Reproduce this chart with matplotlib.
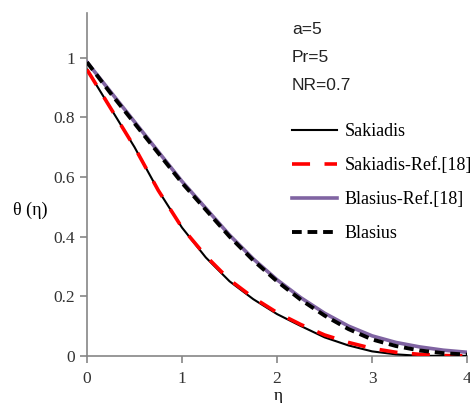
import matplotlib
matplotlib.use("Agg")
import matplotlib.pyplot as plt
import numpy as np

eta = [0, 0.25, 0.5, 0.75, 1.0, 1.25, 1.5, 1.75, 2.0, 2.25, 2.5, 2.75, 3.0, 3.25, 3.5, 3.75, 4.0]
sakiadis = [0.96, 0.83, 0.70, 0.555, 0.43, 0.33, 0.25, 0.19, 0.14, 0.10, 0.062, 0.035, 0.015, 0.005, 0.0, 0.0, 0.0]
sakiadis_ref = [0.96, 0.83, 0.70, 0.555, 0.43, 0.335, 0.255, 0.195, 0.145, 0.105, 0.07, 0.045, 0.025, 0.012, 0.005, 0.001, 0.0]
blasius_ref = [0.985, 0.885, 0.785, 0.685, 0.585, 0.495, 0.405, 0.325, 0.255, 0.195, 0.143, 0.10, 0.067, 0.045, 0.03, 0.019, 0.012]
blasius = [0.985, 0.88, 0.78, 0.68, 0.58, 0.49, 0.40, 0.32, 0.25, 0.188, 0.135, 0.09, 0.055, 0.033, 0.018, 0.009, 0.004]

labels = ["Sakiadis", "Sakiadis-Ref.[18]", "Blasius-Ref.[18]", "Blasius"]
params = ["a=5", "Pr=5", "NR=0.7"]

fig = plt.figure(figsize=(4.7, 4.03), dpi=100)
ax = fig.add_axes([0.185, 0.117, 0.809, 0.851])

serif = "Liberation Serif"
l1, = ax.plot(eta, sakiadis, color="black", lw=1.5, zorder=3)
l2, = ax.plot(eta, sakiadis_ref, color="#ff0000", lw=2.6, dashes=(5, 4), zorder=4)
l3, = ax.plot(eta, blasius_ref, color="#8064A2", lw=2.6, zorder=3)
l4, = ax.plot(eta, blasius, color="black", lw=2.8, dashes=(2.5, 1.5), zorder=4)

ax.set_xlim(0, 4)
ax.set_ylim(0, 1.15)
ax.set_xticks([0, 1, 2, 3, 4])
ax.set_yticks([0, 0.2, 0.4, 0.6, 0.8, 1.0])
ax.set_yticklabels(["0", "0.2", "0.4", "0.6", "0.8", "1"])
for s in ["top", "right"]:
    ax.spines[s].set_visible(False)
for s in ["left", "bottom"]:
    ax.spines[s].set_color("#868686")
    ax.spines[s].set_linewidth(1.2)
ax.tick_params(axis="both", color="#868686", length=5, width=1.2, direction="out",
               labelsize=12.5, labelcolor="#333333")
ax.tick_params(axis="x", pad=6)
for t in ax.get_xticklabels() + ax.get_yticklabels():
    t.set_fontfamily(serif)

fig.text(278/470, 1 - 396/403, "η", fontfamily=serif, fontsize=12.5,
         ha="center", va="center")
fig.text(13/470, 1 - 210/403, "θ (η)", fontfamily=serif, fontsize=13,
         ha="left", va="center")

for i, p in enumerate(params):
    fig.text(292/470, 1 - (30 + 27.5*i)/403, p, fontfamily="Liberation Sans",
             fontsize=12.5, ha="left", va="center", color="#222222")

leg = ax.legend([l1, l2, l3, l4], labels, loc="upper left",
                bbox_to_anchor=(0.52, 0.70), frameon=False,
                prop={"family": serif, "size": 13}, handlelength=2.5,
                handletextpad=0.4, labelspacing=0.95, borderaxespad=0)

fig.savefig("out.png", dpi=100)
